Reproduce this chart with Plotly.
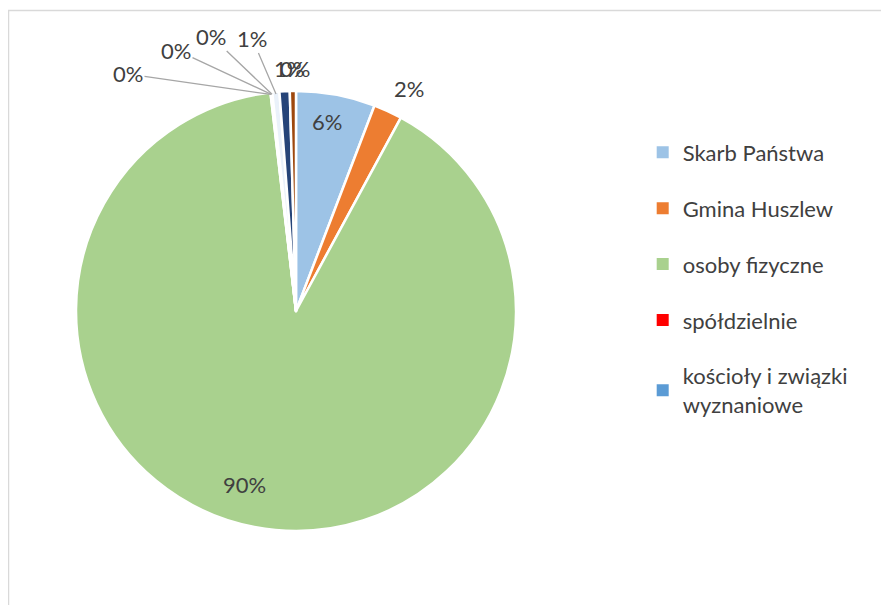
import math
import plotly.graph_objects as go

labels = ["Skarb Państwa", "Gmina Huszlew", "osoby fizyczne", "spółdzielnie",
          "kościoły i związki wyznaniowe", "Powiat", "Agencja Nieruchomości Rolnych",
          "Lasy Państwowe", "inne"]
values = [5.8, 2.1, 90.1, 0.03, 0.04, 0.06, 0.52, 0.75, 0.45]
colors = ["#9DC3E6", "#ED7D31", "#A9D18E", "#FF0000", "#5B9BD5",
          "#DDEBF7", "#EAF1FA", "#264478", "#9E480E"]

legend_labels = ["Skarb Państwa", "Gmina Huszlew", "osoby fizyczne", "spółdzielnie",
                 "kościoły i związki<br>wyznaniowe"]

# ---- layout constants (pixels, measured on the window; page body has an 8px margin)
W, H = 889, 605
OFF = 8
CX, CY, R = 296 - OFF, 311 - OFF, 220
radial = [0.87, 1.14, 0.83, None, None, None, None, None, None]
nudge = [(-4, -1), (8, 5), (-17, -6), None, None, None, None, None, None]
label_px = [None, None, None, (128, 74), (176, 50), (211, 36), (252, 38), (289, 68), (295, 68)]
leader = [False, False, False, True, True, True, True, False, False]

FONT = "Lato"
TXT = "#404040"
FS = 22

fig = go.Figure()
fig.add_trace(go.Pie(
    labels=labels, values=values, sort=False, direction="clockwise", rotation=0,
    marker=dict(colors=colors, line=dict(color="white", width=2.5)),
    textinfo="none", showlegend=False, automargin=False,
    domain=dict(x=[(CX - R) / W, (CX + R) / W], y=[(H - CY - R) / H, (H - CY + R) / H]),
))


def to_paper(px, py):
    return px / W, 1 - py / H


total = sum(values)
cum = 0.0
annotations = []
for i, v in enumerate(values):
    mid = 2 * math.pi * (cum + v / 2) / total
    cum += v
    txt = f"{round(100 * v / total)}%"
    font = dict(family=FONT, size=FS, color=TXT)
    if radial[i] is not None:
        px = CX + R * radial[i] * math.sin(mid) + nudge[i][0]
        py = CY - R * radial[i] * math.cos(mid) + nudge[i][1]
        x, y = to_paper(px, py)
        annotations.append(dict(x=x, y=y, xref="paper", yref="paper", text=txt,
                                xanchor="center", yanchor="middle",
                                showarrow=False, font=font))
    else:
        lx, ly = label_px[i][0] - OFF, label_px[i][1] - OFF
        if leader[i]:
            epx = CX + (R - 2) * math.sin(mid)
            epy = CY - (R - 2) * math.cos(mid)
            ex, ey = to_paper(epx, epy)
            annotations.append(dict(x=ex, y=ey, xref="paper", yref="paper",
                                    ax=lx - epx, ay=ly - epy,
                                    text=txt, showarrow=True, arrowhead=0,
                                    arrowcolor="#A6A6A6", arrowwidth=1.3, standoff=0,
                                    font=font))
        else:
            x, y = to_paper(lx, ly)
            annotations.append(dict(x=x, y=y, xref="paper", yref="paper", text=txt,
                                    xanchor="center", yanchor="middle",
                                    showarrow=False, font=font))

for i, name in enumerate(legend_labels):
    fig.add_trace(go.Scatter(
        x=[None], y=[None], mode="markers", name=name, legendgroup=f"g{i}",
        marker=dict(symbol="square", size=9, color=colors[i]),
    ))

fig.update_layout(
    width=W, height=H,
    margin=dict(l=0, r=0, t=0, b=0, autoexpand=False),
    paper_bgcolor="white", plot_bgcolor="white",
    xaxis=dict(visible=False), yaxis=dict(visible=False),
    legend=dict(x=634.7 / W, y=1 - 123.5 / H, xanchor="left", yanchor="top",
                font=dict(family=FONT, size=FS, color=TXT),
                tracegroupgap=24.3, itemsizing="constant",
                bgcolor="rgba(0,0,0,0)"),
    annotations=annotations,
    shapes=[dict(type="rect", xref="paper", yref="paper",
                 x0=0.6 / W, x1=1.02, y0=-0.02, y1=1 - 2.5 / H,
                 line=dict(color="#D9D9D9", width=1.3), layer="below")],
)

fig.write_html("out.html")
